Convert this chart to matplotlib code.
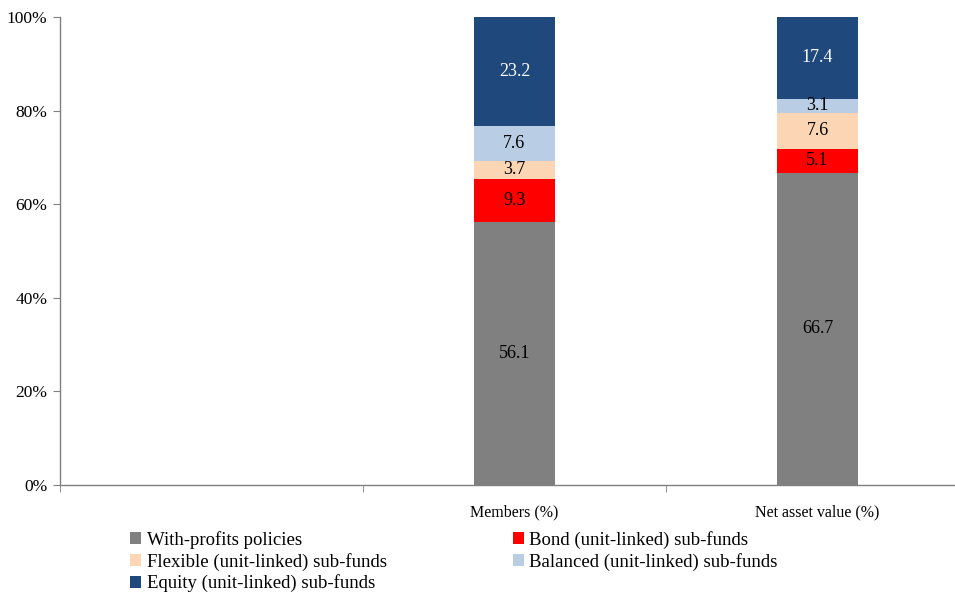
import numpy as np
import matplotlib
matplotlib.use("Agg")
import matplotlib.pyplot as plt
from matplotlib.patches import Patch

plt.rcParams["font.family"] = ["Liberation Serif", "DejaVu Serif"]

# Category slots along the x axis (the first slot is left empty)
categories = ["", "Members (%)", "Net asset value (%)"]
bar_categories = ["Members (%)", "Net asset value (%)"]

series_names = [
    "With-profits policies",
    "Bond (unit-linked) sub-funds",
    "Flexible (unit-linked) sub-funds",
    "Balanced (unit-linked) sub-funds",
    "Equity (unit-linked) sub-funds",
]
with_profits = [56.1, 66.7]
bond = [9.3, 5.1]
flexible = [3.7, 7.6]
balanced = [7.6, 3.1]
equity = [23.2, 17.4]

colors = ["#808080", "#FF0000", "#FCD5B5", "#B9CDE5", "#1F497D"]
label_colors = ["#000000", "#000000", "#000000", "#000000", "#FFFFFF"]

series = [with_profits, bond, flexible, balanced, equity]
values = np.array(series, dtype=float)
shares = values / values.sum(axis=0) * 100.0  # 100% stacked

fig = plt.figure(figsize=(9.55, 5.96), dpi=100)
ax = fig.add_axes([60 / 955, 1 - 485 / 596, 909 / 955, 468 / 596])

x = np.array([categories.index(c) for c in bar_categories], dtype=float)
bottom = np.zeros(len(x))
handles = []
for i, name in enumerate(series_names):
    ax.bar(x, shares[i], bottom=bottom, width=0.268, color=colors[i],
           edgecolor="none", label=name)
    for xi, b, h, v in zip(x, bottom, shares[i], values[i]):
        ax.text(xi, b + h / 2, f"{v:.1f}", ha="center", va="center",
                fontsize=13, color=label_colors[i])
    bottom += shares[i]
    handles.append(Patch(facecolor=colors[i], edgecolor="none", label=name))

ax.set_xlim(-0.5, len(categories) - 0.5)
ax.set_ylim(0, 100)
ax.set_yticks(np.arange(0, 101, 20))
ax.set_yticklabels([f"{t}%" for t in range(0, 101, 20)], fontsize=12.5)

# category labels centred, tick marks on the boundaries
ax.set_xticks(np.arange(len(categories)))
ax.set_xticklabels(categories, fontsize=11.5)
ax.tick_params(axis="x", which="major", length=0, pad=14)
ax.set_xticks(np.arange(len(categories) + 1) - 0.5, minor=True)
ax.tick_params(axis="x", which="minor", length=5, color="#808080", direction="out")
ax.tick_params(axis="y", length=5, color="#808080", pad=4)

for s in ["top", "right"]:
    ax.spines[s].set_visible(False)
for s in ["left", "bottom"]:
    ax.spines[s].set_color("#808080")
    ax.spines[s].set_linewidth(1.0)

order = [0, 2, 4, 1, 3]
fig.legend([handles[i] for i in order], [series_names[i] for i in order],
           ncol=2, loc="upper left", bbox_to_anchor=(130 / 955, 1 - 531 / 596),
           frameon=False, fontsize=13.5, handlelength=0.6, handleheight=0.6,
           handletextpad=0.3, labelspacing=0.2, columnspacing=6.7,
           borderaxespad=0, borderpad=0)

fig.savefig("out.png", dpi=100)
